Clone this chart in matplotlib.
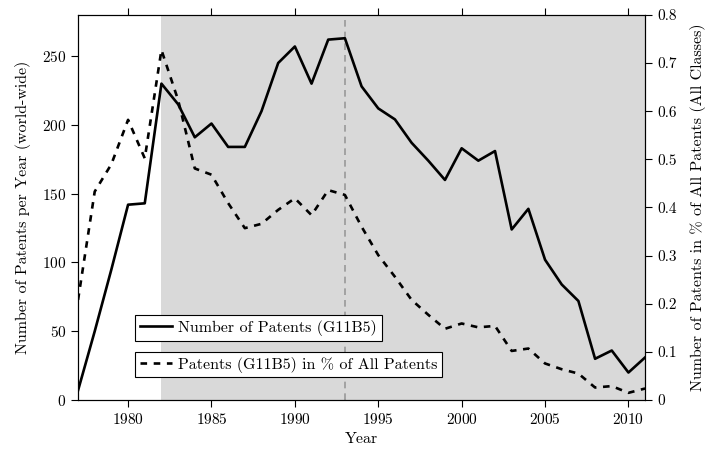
import matplotlib
matplotlib.use("Agg")
import matplotlib.pyplot as plt
from matplotlib.lines import Line2D

plt.rcParams['font.family'] = 'cmr10'
plt.rcParams['mathtext.fontset'] = 'cm'
plt.rcParams['axes.formatter.use_mathtext'] = True
plt.rcParams['font.size'] = 11.5

# patent counts in class G11B5, per year
years = list(range(1977, 2012))
num_patents = [7, 50, 95, 142, 143, 230, 215, 191, 201, 184,
               184, 210, 245, 257, 230, 262, 263, 228, 212, 204,
               187, 174, 160, 183, 174, 181, 124, 139, 102, 84,
               72, 30, 36, 20, 31]
# share of all patents (in %)
pct_patents = [0.208, 0.433, 0.49, 0.582, 0.502, 0.727, 0.623, 0.481, 0.468, 0.409,
               0.357, 0.366, 0.395, 0.419, 0.384, 0.436, 0.426, 0.36, 0.301, 0.256,
               0.208, 0.177, 0.148, 0.159, 0.151, 0.154, 0.102, 0.107, 0.076, 0.064,
               0.055, 0.026, 0.029, 0.015, 0.024]

shade_start = 1982
marker_year = 1993

fig = plt.figure(figsize=(7.16, 4.5), dpi=100)
ax = fig.add_axes([0.109, 0.111, 0.792, 0.856])
ax2 = ax.twinx()

ax.axvspan(shade_start, years[-1], color='#d9d9d9', lw=0, zorder=0)
ax.axvline(marker_year, color='#999999', lw=1.2, ls=(0, (4, 3)), zorder=1)

ax.plot(years, num_patents, color='black', lw=1.9, zorder=3)
ax2.plot(years, pct_patents, color='black', lw=1.9, ls=(0, (2.5, 2.5)), zorder=3)

ax.set_xlim(1977, 2011)
ax.set_ylim(0, 280)
ax2.set_ylim(0, 0.8)
ax.set_xticks([1980, 1985, 1990, 1995, 2000, 2005, 2010])
ax.set_yticks([0, 50, 100, 150, 200, 250])
ax2.set_yticks([0, 0.1, 0.2, 0.3, 0.4, 0.5, 0.6, 0.7, 0.8])
ax2.set_yticklabels(['0', '0.1', '0.2', '0.3', '0.4', '0.5', '0.6', '0.7', '0.8'])

ax.tick_params(direction='out', top=True, length=5, labelsize=11)
ax2.tick_params(direction='out', length=5, labelsize=11)

ax.set_xlabel('Year', labelpad=4)
ax.set_ylabel('Number of Patents per Year (world-wide)', labelpad=8)
ax2.set_ylabel('Number of Patents in % of All Patents (All Classes)', labelpad=10)

h1 = [Line2D([], [], color='black', lw=1.9)]
h2 = [Line2D([], [], color='black', lw=1.9, ls=(0, (2.5, 2.5)))]
leg_kw = dict(loc='upper left', frameon=True, fancybox=False, edgecolor='black',
              framealpha=1, borderaxespad=0, handlelength=2.0, handletextpad=0.4,
              borderpad=0.3)
leg1 = ax2.legend(h1, ['Number of Patents (G11B5)'],
                  bbox_to_anchor=(0.1005, 0.221), **leg_kw)
leg1.get_frame().set_linewidth(0.8)
ax2.add_artist(leg1)
leg2 = ax2.legend(h2, ['Patents (G11B5) in % of All Patents'],
                  bbox_to_anchor=(0.1005, 0.125), **leg_kw)
leg2.get_frame().set_linewidth(0.8)

fig.savefig('out.png', dpi=100)
